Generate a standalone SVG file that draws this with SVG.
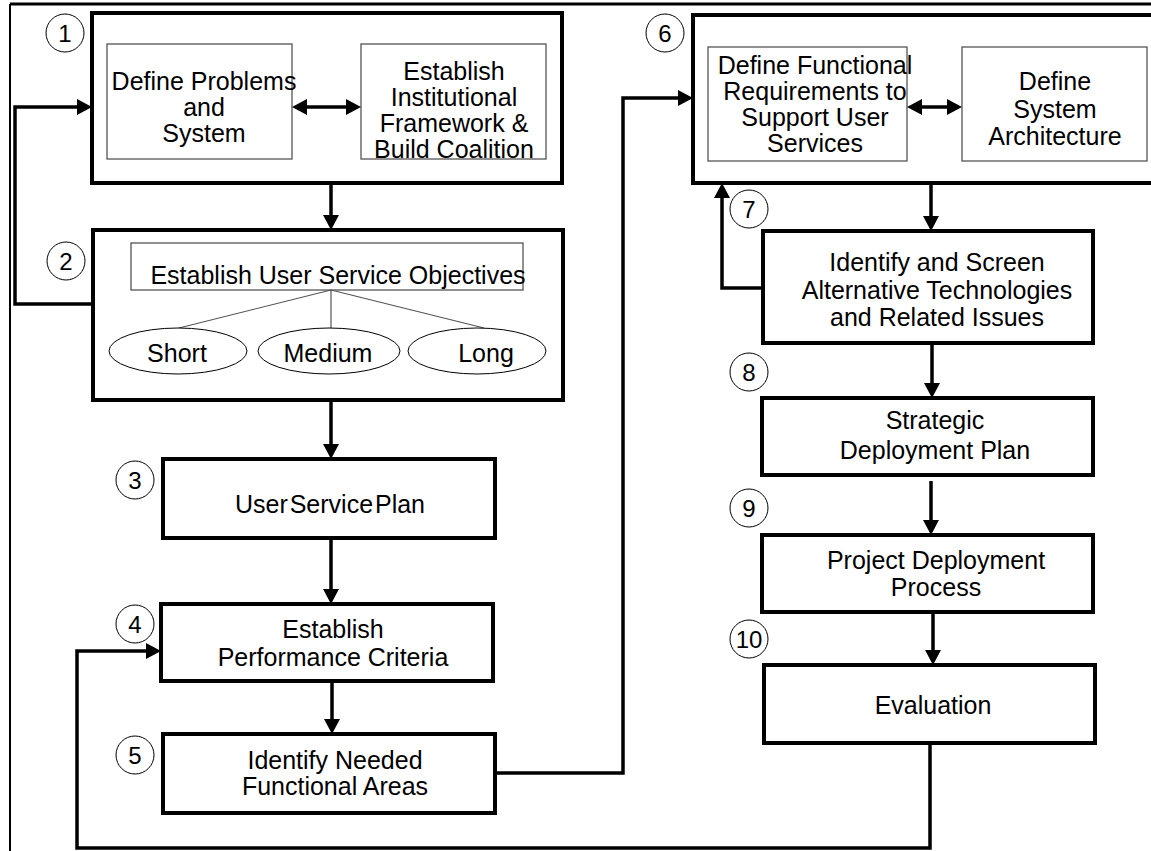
<svg xmlns="http://www.w3.org/2000/svg" width="1151" height="851" viewBox="0 0 1151 851">
<defs>
<marker id="ah" viewBox="0 0 15 16" markerUnits="userSpaceOnUse" markerWidth="15" markerHeight="16" refX="10" refY="8" orient="auto-start-reverse">
<path d="M0,0 L15,8 L0,16 z" fill="#000"/>
</marker>
<style>
text{font-family:"Liberation Sans",Arial,sans-serif;font-size:25px;fill:#000;text-anchor:middle}
.num{font-size:24px}
.box{fill:#fff;stroke:#000;stroke-width:4}
.inner{fill:#fff;stroke:#555;stroke-width:1.3}
.circ{fill:#fff;stroke:#000;stroke-width:1}
.frame{fill:none;stroke:#000}
.con{fill:none;stroke:#000;stroke-width:3.5}
.arr{marker-end:url(#ah)}
.dbl{marker-start:url(#ah);marker-end:url(#ah)}
.thin{stroke:#555;stroke-width:1.2;fill:none}
.ell{fill:#fff;stroke:#000;stroke-width:1}
</style>
</defs>
<rect width="1151" height="851" fill="#fff"/>
<g id="frame">
<line class="frame" x1="10" y1="4" x2="1151" y2="4" stroke-width="3"/>
<line class="frame" x1="10" y1="4" x2="10" y2="851" stroke-width="2"/>
</g>
<g id="connectors">
<path class="con arr" d="M331,183 V225"/>
<path class="con arr" d="M331,400 V454"/>
<path class="con arr" d="M331,538 V599"/>
<path class="con arr" d="M332,681 V729"/>
<path class="con arr" d="M93,304 H15 V107 H87"/>
<path class="con arr" d="M930,743 V848 H77 V651 H156"/>
<path class="con arr" d="M495,773 H623 V98 H688"/>
<path class="con arr" d="M931,183 V226"/>
<path class="con arr" d="M763,288 H722 V188"/>
<path class="con arr" d="M932,343 V393"/>
<path class="con arr" d="M931,481 V530"/>
<path class="con arr" d="M933,612 V660"/>
</g>
<g id="node1">
<rect class="box" x="92" y="13" width="470" height="170"/>
<circle class="circ" cx="65" cy="33" r="19"/>
<text class="num" x="65" y="41.5">1</text>
<rect class="inner" x="107" y="44" width="185" height="115"/>
<text x="204" y="90">Define Problems</text>
<text x="204" y="116">and</text>
<text x="204" y="142">System</text>
<rect class="inner" x="361" y="44" width="185" height="115"/>
<text x="454" y="80">Establish</text>
<text x="454" y="106">Institutional</text>
<text x="454" y="132">Framework &amp;</text>
<text x="454" y="158">Build Coalition</text>
<path class="con dbl" d="M297,107 H356"/>
</g>
<g id="node2">
<rect class="box" x="93" y="230" width="470" height="170"/>
<circle class="circ" cx="66" cy="261" r="19"/>
<text class="num" x="66" y="269.5">2</text>
<rect class="inner" x="131" y="243" width="392" height="47"/>
<text x="338" y="284">Establish User Service Objectives</text>
<path class="thin" d="M331,290 L179,328 M331,290 L331,328 M331,290 L484,328"/>
<ellipse class="ell" cx="178" cy="351" rx="69" ry="23"/>
<ellipse class="ell" cx="329" cy="351" rx="71" ry="23"/>
<ellipse class="ell" cx="477" cy="351" rx="69" ry="23"/>
<text x="177" y="362">Short</text>
<text x="328" y="362">Medium</text>
<text x="486" y="362">Long</text>
</g>
<g id="node3">
<rect class="box" x="163" y="459" width="332" height="79"/>
<circle class="circ" cx="135" cy="480" r="19"/>
<text class="num" x="135" y="488.5">3</text>
<text x="330" y="513" word-spacing="-5">User Service Plan</text>
</g>
<g id="node4">
<rect class="box" x="161" y="604" width="332" height="77"/>
<circle class="circ" cx="135" cy="624" r="19"/>
<text class="num" x="135" y="632.5">4</text>
<text x="333" y="638">Establish</text>
<text x="333" y="666">Performance Criteria</text>
</g>
<g id="node5">
<rect class="box" x="163" y="734" width="332" height="79"/>
<circle class="circ" cx="135" cy="755" r="19"/>
<text class="num" x="135" y="763.5">5</text>
<text x="335" y="769">Identify Needed</text>
<text x="335" y="795">Functional Areas</text>
</g>
<g id="node6">
<rect class="box" x="693" y="15" width="480" height="168"/>
<circle class="circ" cx="665" cy="33" r="19"/>
<text class="num" x="665" y="41.5">6</text>
<rect class="inner" x="708" y="47" width="199" height="114"/>
<text x="815" y="74">Define Functional</text>
<text x="815" y="100">Requirements to</text>
<text x="815" y="126">Support User</text>
<text x="815" y="152">Services</text>
<rect class="inner" x="962" y="47" width="185" height="114"/>
<text x="1055" y="90">Define</text>
<text x="1055" y="118">System</text>
<text x="1055" y="145">Architecture</text>
<path class="con dbl" d="M912,107 H957"/>
</g>
<g id="node7">
<rect class="box" x="763" y="231" width="330" height="112"/>
<circle class="circ" cx="749" cy="209" r="19"/>
<text class="num" x="749" y="217.5">7</text>
<text x="937" y="271">Identify and Screen</text>
<text x="937" y="299">Alternative Technologies</text>
<text x="937" y="326">and Related Issues</text>
</g>
<g id="node8">
<rect class="box" x="762" y="398" width="331" height="77"/>
<circle class="circ" cx="749" cy="372" r="19"/>
<text class="num" x="749" y="380.5">8</text>
<text x="935" y="429">Strategic</text>
<text x="935" y="459">Deployment Plan</text>
</g>
<g id="node9">
<rect class="box" x="762" y="535" width="331" height="77"/>
<circle class="circ" cx="749" cy="508" r="19"/>
<text class="num" x="749" y="516.5">9</text>
<text x="936" y="569">Project Deployment</text>
<text x="936" y="596">Process</text>
</g>
<g id="node10">
<rect class="box" x="764" y="665" width="331" height="78"/>
<circle class="circ" cx="749" cy="639" r="19"/>
<text class="num" x="749" y="647.5">10</text>
<text x="933" y="714">Evaluation</text>
</g>
</svg>
